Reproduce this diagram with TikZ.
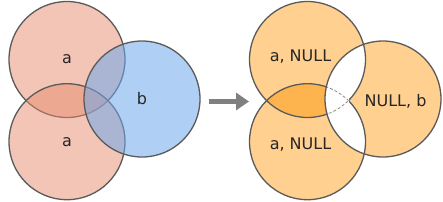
\documentclass[tikz,border=0pt]{standalone}
\usepackage{fontspec}
\setmainfont{DejaVu Sans}
\usetikzlibrary{arrows.meta}
\definecolor{cLeft}{HTML}{E78B6D}
\definecolor{cRight}{HTML}{6FA7EB}
\definecolor{cJoin}{HTML}{FFD08F}
\definecolor{cBoth}{HTML}{FDB44F}
\definecolor{cEdge}{HTML}{5A5A5A}
\tikzset{
  font=\fontsize{16}{19}\selectfont,
  set/.style={circle, minimum size=116pt, inner sep=0pt, line width=1.3pt},
  leftset/.style={set, draw=cEdge, fill=cLeft, fill opacity=0.5},
  rightset/.style={set, draw=cEdge, fill=cRight, fill opacity=0.55},
  joinset/.style={set, fill=cJoin},
  setlabel/.style={text=black!85, inner sep=1pt},
  edge/.style={draw=cEdge, line width=1.3pt},
  erase/.style={draw=white, line width=2.2pt},
  hidden/.style={draw=black!55, line width=0.6pt, dash pattern=on 3pt off 2pt},
  moveto/.style={-{Triangle[length=13pt, width=17pt]}, line width=5pt, draw=black!50},
}
\begin{document}
\begin{tikzpicture}[x=1pt, y=-1pt]
  \useasboundingbox (0,0) rectangle (443,201);

  % before the join
  \node[leftset]  (a1) at (67,59.5)  {};
  \node[leftset]  (a2) at (67,141.7) {};
  \node[rightset] (b)  at (142,99)   {};
  \node[setlabel] at (a1) {a};
  \node[setlabel] at (a2) {a};
  \node[setlabel] at (b)  {b};

  % arrow
  \coordinate (go)   at (209,101.5);
  \coordinate (stop) at (249,101.5);
  \draw[moveto] (go) -- (stop);

  % after the join
  \node[joinset] (jb)  at (383,99)    {};
  \node[joinset] (ja1) at (307.5,59.5)  {};
  \node[joinset] (ja2) at (307.5,141.7) {};
  \begin{scope}
    \clip (ja1.center) circle (58pt);
    \fill[cBoth] (ja2.center) circle (58pt);
  \end{scope}
  \begin{scope}
    \clip (jb.center) circle (58pt);
    \fill[white] (ja1.center) circle (58pt) (ja2.center) circle (58pt);
  \end{scope}
  \draw[edge] (ja1.center) circle (58pt) (ja2.center) circle (58pt);
  % inner arcs of the white part are dashed
  \begin{scope}
    \clip (jb.center) circle (58pt);
    \clip (ja2.center) circle (58pt);
    \draw[erase] (ja1.center) circle (58pt);
    \draw[hidden] (ja1.center) circle (58pt);
  \end{scope}
  \begin{scope}
    \clip (jb.center) circle (58pt);
    \clip (ja1.center) circle (58pt);
    \draw[erase] (ja2.center) circle (58pt);
    \draw[hidden] (ja2.center) circle (58pt);
  \end{scope}
  \draw[edge] (jb.center) circle (58pt);

  \node[setlabel] at (300.5,57)  {a, NULL};
  \node[setlabel] at (300.5,145) {a, NULL};
  \node[setlabel] at (395.5,101) {NULL, b};
\end{tikzpicture}
\end{document}
